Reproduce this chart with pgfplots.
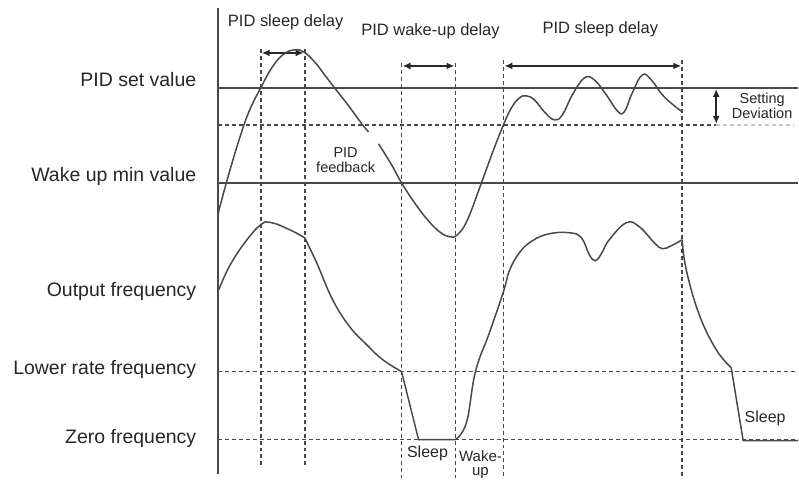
\documentclass[border=0pt]{standalone}
\usepackage{pgfplots}
\pgfplotsset{compat=1.18}
\usepackage{fontspec}
\setmainfont{Liberation Sans}
\usetikzlibrary{arrows.meta}
\definecolor{ln}{HTML}{484848}
\definecolor{tx}{HTML}{262626}
\begin{document}
\begin{tikzpicture}
\begin{axis}[
  width=799pt, height=479pt, scale only axis,
  xmin=0, xmax=799, ymin=0, ymax=479, y dir=reverse,
  hide axis, clip=false,
  every axis plot/.append style={line width=1.5pt},
  dsh/.style={ln, line width=1.8pt, dash pattern=on 4pt off 3pt},
]
% bounding box
\addplot[draw=none] coordinates {(0,0) (799,479)};
% vertical axis line
\addplot[ln, line width=1.7pt] coordinates {(218,8) (218,475)};
% horizontal solid lines
\addplot[ln] coordinates {(218,88) (799,88)};
\addplot[ln] coordinates {(218,183) (799,183)};
% horizontal dashed lines
\addplot[dsh] coordinates {(218,125) (717,125)};
\addplot[dsh, gray!45] coordinates {(717,125) (795,125)};
\addplot[dsh] coordinates {(218,372) (799,372)};
\addplot[dsh] coordinates {(218,440) (799,440)};
% vertical dashed lines
\addplot[dsh] coordinates {(261,49) (261,468)};
\addplot[dsh] coordinates {(305,49) (305,468)};
\addplot[dsh] coordinates {(402,63) (402,479)};
\addplot[dsh] coordinates {(456,63) (456,479)};
\addplot[dsh] coordinates {(504,60) (504,479)};
\addplot[dsh] coordinates {(683,60) (683,479)};
% arrows
\addplot[tx, line width=1.7pt, {Latex[length=8pt,width=7pt]}-{Latex[length=8pt,width=7pt]}] coordinates {(262,53) (304,53)};
\addplot[tx, line width=1.7pt, {Latex[length=8pt,width=7pt]}-{Latex[length=8pt,width=7pt]}] coordinates {(403,66) (455,66)};
\addplot[tx, line width=1.7pt, {Latex[length=8pt,width=7pt]}-{Latex[length=8pt,width=7pt]}] coordinates {(505,66) (682,66)};
\addplot[tx, line width=1.7pt, {Latex[length=8pt,width=7pt]}-{Latex[length=8pt,width=7pt]}] coordinates {(717,89) (717,124)};
% PID feedback curve
\addplot[ln, smooth, tension=0.7] coordinates {
 (218,215) (228,178) (240,138) (250,110) (261,88) (272,68) (283,55) (294,50)
 (304,52) (315,62) (325,75) (335,88) (349,106) (363,125) (369,132)};
\addplot[ln, smooth, tension=0.7] coordinates {
 (379,144) (392,165) (402,183) (415,203) (428,220) (440,232) (450,237)
 (458,235) (468,220) (482,183) (493,153) (504,125) (512,108) (520,98)
 (527,96) (535,100) (545,112) (555,120) (563,115) (573,95) (585,78)
 (595,80) (607,95) (618,111) (625,112) (633,93) (643,75) (652,80)
 (665,97) (683,112)};
% Output frequency curve
\addplot[ln, smooth, tension=0.7] coordinates {
 (219,290) (230,266) (245,243) (261,225) (272,223) (290,230) (305,238)};
\addplot[ln, smooth, tension=0.7] coordinates {
 (305,238) (317,263) (333,300) (350,327) (367,345) (383,360) (402,372)};
\addplot[ln] coordinates {(402,372) (419,440) (456,440)};
\addplot[ln, smooth, tension=0.7] coordinates {
 (456,440) (467,423) (476,372) (490,333) (504,292) (510,271) (520,253)
 (533,241) (550,234) (570,233) (582,238) (590,255) (596,261) (602,254)
 (610,240) (627,223) (640,227) (655,243) (663,249) (672,246) (683,240)};
\addplot[ln, smooth, tension=0.7] coordinates {
 (683,240) (687,270) (700,315) (717,350) (732,368)};
\addplot[ln] coordinates {(732,368) (744,441) (799,441)};
% left labels
\node[anchor=east, text=tx, font=\fontsize{19.5}{21}\selectfont] at (axis cs:200,80) {PID set value};
\node[anchor=east, text=tx, font=\fontsize{19.5}{21}\selectfont] at (axis cs:200,177) {Wake up min value};
\node[anchor=east, text=tx, font=\fontsize{19.5}{21}\selectfont] at (axis cs:200,292) {Output frequency};
\node[anchor=east, text=tx, font=\fontsize{19.5}{21}\selectfont] at (axis cs:200,370) {Lower rate frequency};
\node[anchor=east, text=tx, font=\fontsize{19.5}{21}\selectfont] at (axis cs:200,439) {Zero frequency};
% top labels
\node[text=tx, font=\fontsize{16.5}{18}\selectfont] at (axis cs:286,22) {PID sleep delay};
\node[text=tx, font=\fontsize{16.5}{18}\selectfont] at (axis cs:431,31) {PID wake-up delay};
\node[text=tx, font=\fontsize{16.5}{18}\selectfont] at (axis cs:601,29) {PID sleep delay};
% small labels
\node[text=tx, font=\fontsize{14.5}{16}\selectfont, align=center] at (axis cs:763,106) {Setting\\[-1pt]Deviation};
\node[text=tx, font=\fontsize{14.5}{16}\selectfont, align=center] at (axis cs:346,160) {PID\\[-1pt]feedback};
\node[text=tx, font=\fontsize{16}{18}\selectfont] at (axis cs:428,454) {Sleep};
\node[text=tx, font=\fontsize{15}{16}\selectfont, align=center] at (axis cs:481,465) {Wake-\\[-2pt]up};
\node[text=tx, font=\fontsize{16}{18}\selectfont] at (axis cs:766,419) {Sleep};
\end{axis}
\end{tikzpicture}
\end{document}
